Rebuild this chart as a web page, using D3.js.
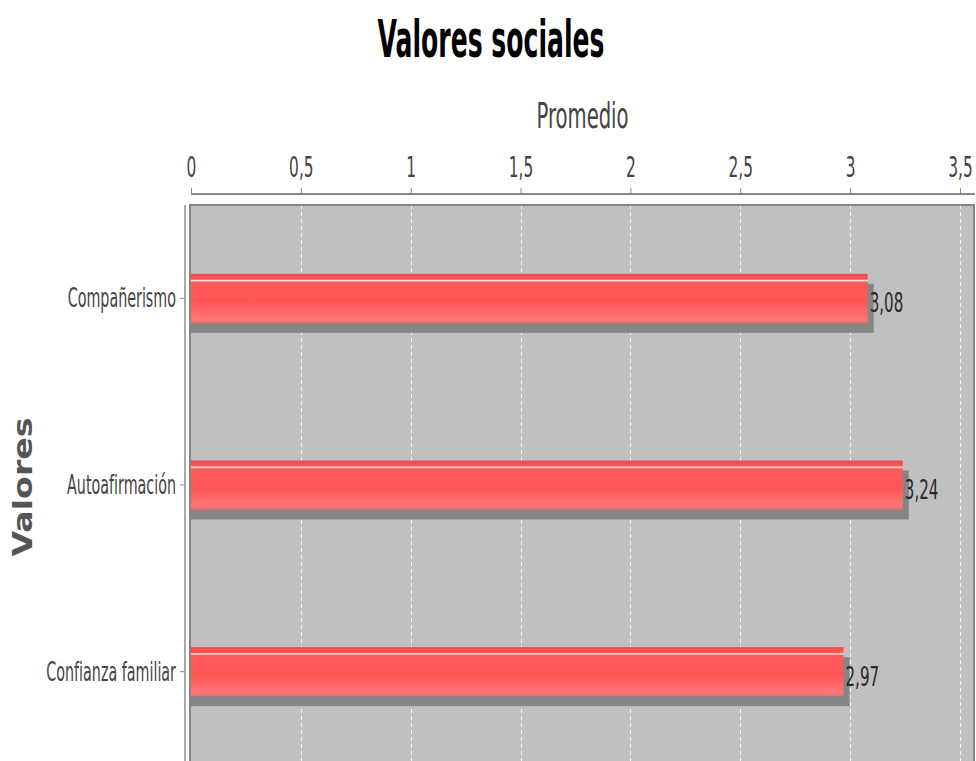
<!DOCTYPE html>
<html lang="es">
<head>
<meta charset="utf-8">
<title>Valores sociales</title>
<script src="https://d3js.org/d3.v7.min.js"></script>
<style>
  body { margin: 0; background: #fff; }
  text { font-family: "DejaVu Sans", Verdana, sans-serif; }
</style>
</head>
<body>
<script type="text/javascript">

// data
var categories = ["Compañerismo", "Autoafirmación", "Confianza familiar"];
var values = [3.08, 3.24, 2.97];
var valueLabels = ["3,08", "3,24", "2,97"];
var xTicks = [0, 0.5, 1, 1.5, 2, 2.5, 3, 3.5];
var xTickLabels = ["0", "0,5", "1", "1,5", "2", "2,5", "3", "3,5"];

var w = 976, h = 761;
var sx = 0.56; // horizontal squeeze of the text, the original is very narrow

var svg = d3.select("body").append("svg")
  .attr("width", w)
  .attr("height", h);

var x = d3.scaleLinear().domain([0, 3.564]).range([191, 974]);
var y = d3.scaleBand().domain(categories).range([205, 765])
  .paddingInner(0.7375).paddingOuter(0.36875);

// bar gradient
var defs = svg.append("defs");
var grad = defs.append("linearGradient").attr("id", "barGrad")
  .attr("x1", 0).attr("y1", 0).attr("x2", 0).attr("y2", 1);
[[0, "#ee4a4a"], [0.11, "#ff5656"], [0.135, "#ffe4e4"], [0.17, "#ff5a5a"],
 [0.55, "#ff5454"], [0.93, "#ff7676"], [1, "#f26a6a"]].forEach(function(s) {
  grad.append("stop").attr("offset", s[0]).attr("stop-color", s[1]);
});

// plot background
svg.append("rect")
  .attr("x", x.range()[0]).attr("y", y.range()[0])
  .attr("width", x.range()[1] - x.range()[0])
  .attr("height", y.range()[1] - y.range()[0])
  .attr("fill", "#c0c0c0");

// grid lines
svg.append("g").selectAll("line")
  .data(xTicks.filter(function(d) { return d > 0; }))
  .enter().append("line")
  .attr("x1", function(d) { return Math.round(x(d)) + 0.5; })
  .attr("x2", function(d) { return Math.round(x(d)) + 0.5; })
  .attr("y1", y.range()[0]).attr("y2", y.range()[1])
  .attr("stroke", "#f4f4f4").attr("stroke-width", 1)
  .attr("stroke-dasharray", "4,3");

// plot outline
svg.append("rect")
  .attr("x", x.range()[0] - 1).attr("y", y.range()[0])
  .attr("width", x.range()[1] - x.range()[0] + 1)
  .attr("height", y.range()[1] - y.range()[0])
  .attr("fill", "none").attr("stroke", "#858585").attr("stroke-width", 2);

// shadows
svg.append("g").selectAll("rect")
  .data(values).enter().append("rect")
  .attr("x", x(0))
  .attr("y", function(d, i) { return y(categories[i]) + 10; })
  .attr("width", function(d) { return x(d) - x(0) + 6; })
  .attr("height", y.bandwidth())
  .attr("fill", "#858585");

// bars
svg.append("g").selectAll("rect")
  .data(values).enter().append("rect")
  .attr("x", x(0))
  .attr("y", function(d, i) { return y(categories[i]); })
  .attr("width", function(d) { return x(d) - x(0); })
  .attr("height", y.bandwidth())
  .attr("fill", "url(#barGrad)");

// value labels
svg.append("g").selectAll("text")
  .data(values).enter().append("text")
  .text(function(d, i) { return valueLabels[i]; })
  .attr("transform", function(d, i) {
    return "translate(" + (x(d) + 2) + "," + (y(categories[i]) + y.bandwidth() / 2 + 14) + ") scale(" + sx + ",1)";
  })
  .attr("font-size", "27px")
  .attr("fill", "#2a2a2a");

// top value axis
var xAxis = d3.axisTop(x)
  .tickValues(xTicks)
  .tickFormat(function(d, i) { return xTickLabels[i]; })
  .tickSize(6).tickSizeOuter(0);

var gx = svg.append("g")
  .attr("transform", "translate(0,194)")
  .call(xAxis);
gx.select(".domain").attr("stroke", "#888").attr("stroke-width", 2)
  .attr("d", "M" + x.range()[0] + ",0H" + (x.range()[1] + 1));
gx.selectAll(".tick line").attr("stroke", "#888");
gx.selectAll(".tick text")
  .attr("y", -17)
  .attr("dy", 0)
  .attr("transform", "scale(" + sx + ",1)")
  .attr("font-size", "27.5px")
  .attr("font-family", null)
  .attr("fill", "#444");

// left category axis
var yAxis = d3.axisLeft(y).tickSize(5).tickSizeOuter(0).tickPadding(3);
var gy = svg.append("g")
  .attr("transform", "translate(185,0)")
  .call(yAxis);
gy.select(".domain").attr("stroke", "#aaa").attr("stroke-width", 2)
  .attr("d", "M0," + y.range()[0] + "V" + (y.range()[1] + 10));
gy.selectAll(".tick line").attr("stroke", "#888");
gy.selectAll(".tick text")
  .attr("x", 0).attr("dy", 0).attr("y", 0)
  .attr("transform", "translate(-9,9) scale(0.54,1)")
  .attr("font-size", "26.5px")
  .attr("font-family", null)
  .attr("fill", "#444");

// title
svg.append("text")
  .attr("x", w / 2 + 3).attr("y", 57)
  .attr("text-anchor", "middle")
  .attr("font-size", "52px")
  .attr("font-weight", "bold")
  .attr("textLength", 227)
  .attr("lengthAdjust", "spacingAndGlyphs")
  .attr("fill", "#000")
  .text("Valores sociales");

// x axis title
svg.append("text")
  .attr("transform", "translate(" + ((x.range()[0] + x.range()[1]) / 2) + ",128) scale(" + sx + ",1)")
  .attr("text-anchor", "middle")
  .attr("font-size", "35px")
  .attr("fill", "#444")
  .text("Promedio");

// y axis title
svg.append("text")
  .attr("transform", "translate(32," + ((y.range()[0] + y.range()[1]) / 2 + 2) + ") rotate(-90)")
  .attr("text-anchor", "middle")
  .attr("font-size", "26px")
  .attr("font-weight", "bold")
  .attr("textLength", 139)
  .attr("lengthAdjust", "spacingAndGlyphs")
  .attr("fill", "#555")
  .text("Valores");

</script>
</body>
</html>
